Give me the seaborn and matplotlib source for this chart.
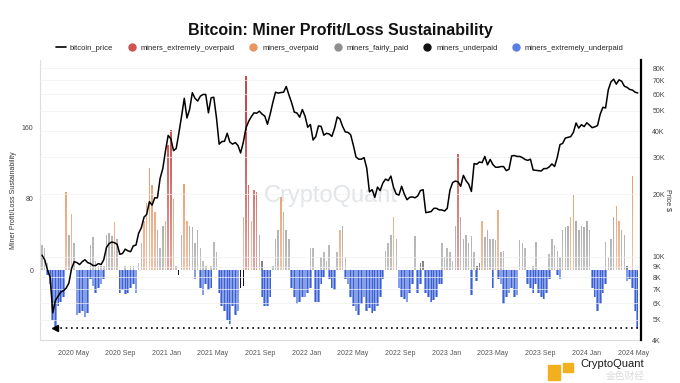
import numpy as np
import pandas as pd
import matplotlib
matplotlib.use('Agg')
import matplotlib.pyplot as plt
import matplotlib.dates as mdates
from matplotlib.lines import Line2D
from matplotlib.patches import Rectangle
from matplotlib.ticker import NullLocator
import seaborn as sns

# ----- Data (weekly) -----
weeks = pd.date_range('2020-02-10', periods=223, freq='7D')

price_k = [
    # 2020
    10.2, 9.7, 8.7, 8.0, 5.4, 6.2, 6.5, 6.8, 6.9, 7.1, 7.5, 8.8, 9.5, 9.4, 9.2, 9.5,
    9.7, 9.4, 9.3, 9.1, 9.1, 9.3, 9.2, 9.7, 11.1, 11.6, 11.8, 11.7, 11.5, 10.3, 10.4,
    10.9, 10.7, 10.6, 11.3, 11.4, 13.0, 13.8, 15.5, 16.0, 18.4, 17.7, 19.2, 19.2,
    23.8, 26.5, 32.2,
    # 2021
    38.2, 36.8, 32.3, 33.1, 39.3, 47.2, 57.5, 46.3, 50.9, 61.2, 57.5, 55.8, 58.9,
    60.0, 60.0, 49.0, 57.8, 58.2, 46.4, 34.7, 35.7, 35.8, 39.1, 35.5, 34.7, 35.3,
    34.2, 31.5, 35.4, 41.5, 44.6, 47.0, 49.0, 48.8, 49.9, 48.3, 47.3, 43.2, 48.2,
    54.9, 61.5, 60.9, 61.3, 61.5, 65.5, 59.7, 54.8, 49.4, 48.9, 46.7, 50.8, 47.3,
    # 2022
    41.8, 43.1, 36.3, 37.7, 42.4, 42.2, 38.3, 39.1, 38.8, 37.8, 41.3, 46.8, 45.8,
    42.2, 39.7, 39.5, 38.5, 34.3, 30.1, 29.4, 29.4, 29.9, 26.6, 20.5, 21.0, 19.3,
    21.6, 20.8, 22.6, 23.6, 23.2, 24.4, 21.5, 20.0, 19.8, 21.8, 20.0, 18.8, 19.3,
    19.4, 19.2, 19.6, 20.8, 21.0, 16.3, 16.4, 16.5, 17.1, 17.1, 16.8, 16.8, 16.6,
    # 2023
    17.1, 20.9, 22.7, 23.1, 22.9, 21.8, 24.6, 23.2, 22.3, 20.6, 28.0, 27.8, 28.5,
    28.3, 30.3, 27.6, 29.3, 27.7, 26.9, 26.9, 27.1, 27.1, 25.9, 26.3, 30.5, 30.6,
    30.3, 30.3, 29.9, 29.3, 29.0, 29.4, 26.1, 26.0, 25.9, 25.8, 26.5, 26.5, 27.0,
    27.9, 27.1, 30.0, 34.5, 35.0, 37.1, 37.4, 37.7, 39.5, 43.8, 41.4, 43.0, 42.1,
    # 2024
    43.9, 42.8, 41.6, 42.0, 42.6, 48.3, 52.1, 51.7, 63.1, 68.9, 71.0, 67.2, 70.5,
    69.4, 65.7, 64.9, 63.4, 63.0, 61.5, 61.0,
]

# weekly peak of the oscillator above zero
osc_high = [
    28, 25, 8, 0, 0, 0, 0, 0, 0, 88,
    40, 63, 30, 0, 0, 0, 0, 0, 28, 37,
    10, 5, 5, 5, 40, 42, 38, 54, 35, 0,
    0, 5, 0, 5, 5, 0, 8, 30, 55, 75,
    114, 95, 65, 45, 25, 50, 55, 140, 157, 80,
    5, 0, 40, 97, 55, 50, 48, 30, 45, 25,
    10, 5, 0, 5, 32, 20, 0, 0, 0, 0,
    0, 0, 0, 0, 0, 60, 217, 95, 55, 90,
    88, 40, 10, 0, 0, 0, 5, 35, 45, 82,
    65, 45, 35, 0, 0, 0, 0, 0, 0, 0,
    25, 25, 0, 0, 15, 20, 10, 28, 0, 0,
    20, 45, 50, 15, 0, 0, 0, 0, 0, 0,
    0, 0, 0, 0, 0, 0, 0, 0, 22, 30,
    40, 60, 35, 0, 0, 0, 0, 0, 0, 38,
    0, 8, 10, 0, 0, 0, 0, 0, 0, 30,
    15, 25, 20, 10, 50, 130, 60, 35, 40, 30,
    38, 20, 5, 8, 55, 37, 45, 35, 35, 34,
    67, 20, 22, 0, 0, 0, 0, 0, 34, 30,
    25, 0, 0, 5, 32, 0, 0, 0, 0, 18,
    35, 28, 22, 15, 45, 48, 50, 60, 84, 55,
    45, 50, 48, 55, 45, 0, 0, 0, 0, 0,
    32, 15, 35, 60, 72, 55, 45, 40, 5, 0,
    106, 0, 0,
]
# R extremely overpaid, O overpaid, F fairly paid, U underpaid
high_class = list(
    'FFF------O' 'FOF-----FF' 'FFFFFFFOF-' '-F-FF-FFOO' 'OOOFFFORRO'
    'F-FOOFFFFF' 'FF-FFF----' '-----ORROR' 'RFU---FFFO' 'OFF-------'
    'FF--FFFF--' 'FOFF------' '--------FF' 'FOF------F' '-UU------F'
    'FFFFFRFFFF' 'FFUUOFFFFF' 'OFF-----FF' 'F--FF----F' 'FFFFFFFOOF'
    'FFFFF-----' 'FFFFOOFFU-' 'O--'
)

# weekly trough of the oscillator below zero
osc_low = [
    0, 0, -5, -15, -55, -64, -40, -35, -30, 0,
    0, 0, 0, -50, -48, -45, -52, -48, -10, -18,
    -25, -20, -15, -10, 0, 0, 0, 0, 0, -25,
    -22, -27, -25, -20, -15, -25, 0, 0, 0, 0,
    0, 0, 0, 0, 0, 0, 0, 0, 0, 0,
    0, -5, 0, 0, 0, 0, 0, -10, 0, -20,
    -28, -15, -22, -20, 0, 0, -25, -40, -45, -55,
    -60, -40, -50, -45, -20, -18, 0, 0, 0, 0,
    0, 0, -30, -40, -40, -30, 0, 0, 0, 0,
    0, 0, 0, -20, -30, -38, -35, -30, -30, -25,
    -20, 0, -35, -35, -15, -8, 0, -10, -20, -22,
    0, 0, 0, -10, -15, -30, -40, -45, -50, -38,
    -30, -45, -42, -48, -45, -40, -30, -10, 0, 0,
    0, 0, 0, -20, -30, -32, -35, -25, -15, 0,
    -25, -15, 0, -25, -30, -35, -33, -30, -15, -15,
    0, 0, 0, 0, 0, 0, 0, 0, 0, 0,
    -28, 0, -12, 0, 0, 0, 0, 0, -20, 0,
    -10, -15, -38, -30, -25, -20, -30, -28, 0, 0,
    0, -15, -20, -25, -15, -25, -30, -32, -25, -10,
    0, 0, -5, -10, 0, 0, 0, 0, 0, 0,
    0, 0, 0, 0, 0, -20, -30, -45, -38, -25,
    -15, 0, 0, 0, 0, 0, 0, 0, -12, -10,
    -20, -45, -64,
]
# B extremely underpaid, U underpaid
low_class = list(
    'BBBBBBBBBB' 'BBBBBBBBBB' 'BBBBBBBBBB' 'BBBBBBBBBB' 'BBBBBBBBBB'
    'BUBBBBBBBB' 'BBBBBBBBBB' 'BBBBUUBBBB' 'BBBBBBBBBB' 'BBBBBBBBBB'
    'BBBBBBBBBB' 'BBBBBBBBBB' 'BBBBBBBBBB' 'BBBBBBBBBB' 'BBBBBBBBBB'
    'BBBBBBBBBB' 'BBBBBBBBBB' 'BBBBBBBBBB' 'BBBBBBBBBB' 'BBBBBBBBBB'
    'BBBBBBBBBB' 'BBBBBBBBBB' 'BBB'
)

price_ticks = [4000, 5000, 6000, 7000, 8000, 9000, 10000, 20000, 30000,
               40000, 50000, 60000, 70000, 80000]
price_labels = ['4K', '5K', '6K', '7K', '8K', '9K', '10K', '20K', '30K',
                '40K', '50K', '60K', '70K', '80K']

df = pd.DataFrame({'date': weeks, 'price': np.array(price_k) * 1000,
                   'high': osc_high, 'high_cls': high_class,
                   'low': osc_low, 'low_cls': low_class})

bar_colors = {'R': '#c94c47', 'O': '#e3874f', 'F': '#858585', 'U': '#151515',
              'B': '#3f5fd0', '-': '#ffffff'}
legend_colors = {'miners_extremely_overpaid': '#cf5451', 'miners_overpaid': '#e8955e',
                 'miners_fairly_paid': '#8f8f8f', 'miners_underpaid': '#111111',
                 'miners_extremely_underpaid': '#5b7ee6'}

# ----- Plot -----
sns.set_style('white')
plt.rcParams['font.family'] = ['Liberation Sans', 'Noto Sans CJK SC']

fig = plt.figure(figsize=(6.8, 3.83), dpi=100)
ax = fig.add_axes([0.059, 0.112, 0.884, 0.731])

# positive side: spiky bars
ax.bar(df['date'], df['high'], width=4.0, linewidth=0,
       color=[bar_colors[c] for c in df['high_cls']], zorder=2)

# negative side: light blue area plus darker spikes
blue = df['low'].where(df['low_cls'] == 'B', 0)
ax.fill_between(df['date'], blue, 0, step='mid', color='#86a0e8', linewidth=0, zorder=1.8)
ax.bar(df['date'], df['low'], width=2.2, linewidth=0,
       color=[bar_colors[c] for c in df['low_cls']], zorder=2)

# fade the positive bars toward the zero line
x0 = mdates.date2num(df['date'].iloc[0]) - 5
x1 = mdates.date2num(df['date'].iloc[-1]) + 9
grad = np.ones((256, 1, 4))
grad[:, 0, 3] = np.linspace(0.0, 0.5, 256)
ax.imshow(grad, extent=[x0, x1, 0, 170], aspect='auto', origin='upper', zorder=2.5)

# dotted line between the two bottoms
i_min = int(np.argmin(osc_low))
lvl = min(osc_low)
ax.plot([df['date'].iloc[i_min], df['date'].iloc[-1]], [lvl, lvl], ls=(0, (1, 2.2)),
        color='black', lw=1.2, zorder=4)
ax.plot(df['date'].iloc[i_min], lvl, marker='<', color='black', ms=5, zorder=4)

ax.text(0.483, 0.514, 'CryptoQuant', transform=ax.transAxes, ha='center', va='center',
        fontsize=17, color='#d9dce0', zorder=1)

ax.set_xlim(x0, x1)
ax.set_ylim(-78, 235)
ax.set_yticks([0, 80, 160])
ax.tick_params(axis='y', labelsize=5, colors='#444444', length=0, pad=5)
ax.set_ylabel('Miner Profit/Loss Sustainability', fontsize=5, color='#333333', labelpad=3)
ax.xaxis.set_major_locator(mdates.MonthLocator(bymonth=[1, 5, 9]))
ax.xaxis.set_major_formatter(mdates.DateFormatter('%Y %b'))
ax.tick_params(axis='x', labelsize=5, colors='#555555', length=0, pad=7)
for s in ['top', 'right']:
    ax.spines[s].set_visible(False)
for s in ['left', 'bottom']:
    ax.spines[s].set_color('#dddddd')
    ax.spines[s].set_linewidth(0.8)

# price on the right log axis
ax2 = ax.twinx()
sns.lineplot(data=df, x='date', y='price', ax=ax2, color='black', lw=1.1)
ax2.set_yscale('log')
ax2.set_ylim(4000, 87600)
ax2.set_yticks(price_ticks)
ax2.set_yticklabels(price_labels)
ax2.yaxis.set_minor_locator(NullLocator())
ax2.tick_params(axis='y', labelsize=5, colors='#444444', length=0, pad=8)
ax2.set_ylabel('Price $', rotation=270, fontsize=5, color='#333333', labelpad=5)
ax2.set_xlabel('')
ax2.grid(axis='y', color='#f0f0f0', lw=0.5)
ax2.set_axisbelow(True)
for s in ['top', 'left', 'bottom']:
    ax2.spines[s].set_visible(False)
ax2.spines['right'].set_color('black')
ax2.spines['right'].set_linewidth(1.6)
ax2.set_xlim(x0, x1)

fig.text(0.5, 1 - 30 / 383, 'Bitcoin: Miner Profit/Loss Sustainability', ha='center',
         va='center', fontsize=11.5, fontweight='bold', color='#111111')

handles = [Line2D([], [], color='black', lw=1.2, label='bitcoin_price')]
for name, col in legend_colors.items():
    handles.append(Line2D([], [], marker='o', ls='', markersize=5,
                          markerfacecolor=col, markeredgecolor=col, label=name))
fig.legend(handles=handles, loc='center', bbox_to_anchor=(0.5, 1 - 48 / 383), ncol=6,
           frameon=False, fontsize=5.5, handlelength=1.3, handletextpad=0.5,
           columnspacing=1.8)

# source logo, bottom right
fig.patches.append(Rectangle((548 / 680, 1 - 380 / 383), 12 / 680, 15 / 383,
                             transform=fig.transFigure, color='#f2b01e'))
fig.patches.append(Rectangle((563 / 680, 1 - 372 / 383), 10 / 680, 9 / 383,
                             transform=fig.transFigure, color='#f2b01e'))
fig.text(606 / 680, 1 - 376 / 383, '金色财经', fontsize=7, color='#c4c4c4', alpha=0.6,
         va='center')
fig.text(580 / 680, 1 - 364 / 383, 'CryptoQuant', fontsize=8, color='#1a1a1a', va='center')

fig.savefig('out.png', dpi=100)
